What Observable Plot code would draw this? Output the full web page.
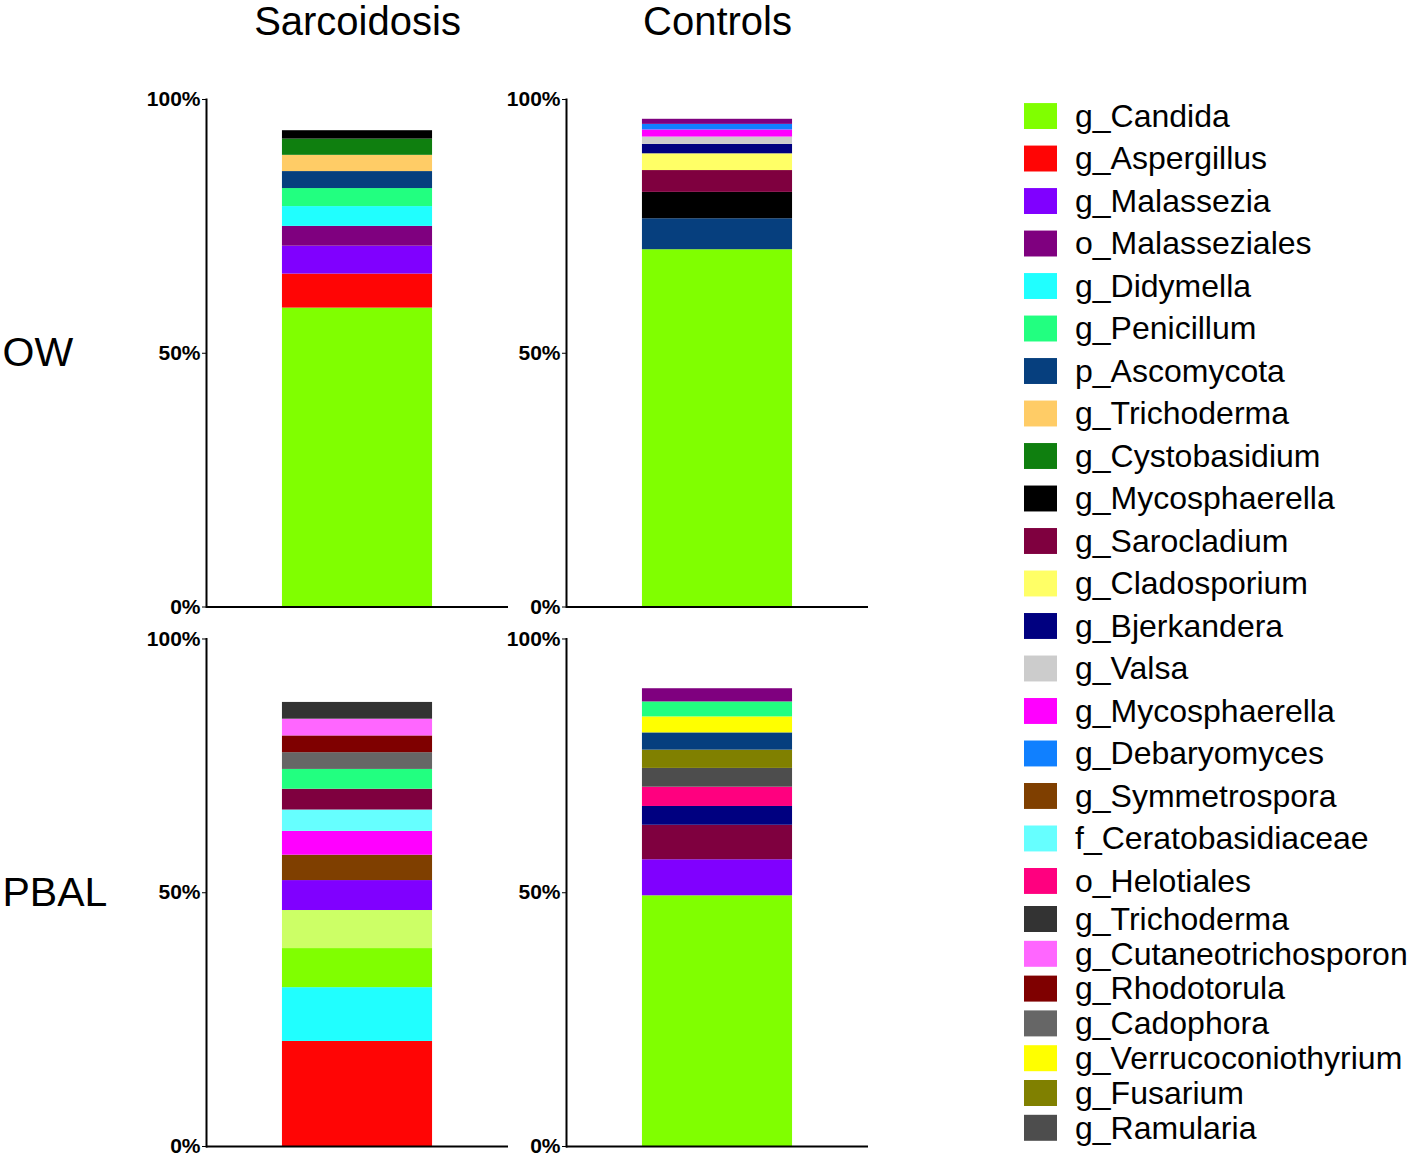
<!DOCTYPE html>
<html>
<head>
<meta charset="utf-8">
<script src="https://cdn.jsdelivr.net/npm/d3@7"></script>
<script src="https://cdn.jsdelivr.net/npm/@observablehq/plot@0.6"></script>
<style>
  html, body { margin: 0; padding: 0; background: #fff; }
  #wrap { position: relative; width: 1416px; height: 1158px; background: #fff; overflow: hidden; }
  #wrap svg { position: absolute; top: 0; }
</style>
</head>
<body>
<div id="wrap"></div>
<script>
// ---- data ----
const groups = ["Sarcoidosis", "Controls"];
const sites = ["OW", "PBAL"];

const taxonKeys = ["Candida","Aspergillus","Malassezia","Malasseziales","Didymella","Penicillum","Ascomycota","Trichoderma","Cystobasidium","Mycosphaerella","Sarocladium","Cladosporium","Bjerkandera","Valsa","Mycosphaerella-2","Debaryomyces","Symmetrospora","Ceratobasidiaceae","Helotiales","Trichoderma-2","Cutaneotrichosporon","Rhodotorula","Cadophora","Verrucoconiothyrium","Fusarium","Ramularia","Unlisted"];
const legendLabels = ["g_Candida","g_Aspergillus","g_Malassezia","o_Malasseziales","g_Didymella","g_Penicillum","p_Ascomycota","g_Trichoderma","g_Cystobasidium","g_Mycosphaerella","g_Sarocladium","g_Cladosporium","g_Bjerkandera","g_Valsa","g_Mycosphaerella","g_Debaryomyces","g_Symmetrospora","f_Ceratobasidiaceae","o_Helotiales","g_Trichoderma","g_Cutaneotrichosporon","g_Rhodotorula","g_Cadophora","g_Verrucoconiothyrium","g_Fusarium","g_Ramularia"];
const taxonColors = ["#80FF00","#FF0505","#8000FF","#7F007F","#20FFFF","#22FF80","#063F7E","#FFCC66","#0F7F0F","#000000","#7F003F","#FFFF66","#000080","#CCCCCC","#FF00FF","#1080FF","#7F3F00","#66FFFF","#FF007F","#333333","#FF66FF","#7F0000","#666666","#FFFF00","#808000","#4D4D4D","#CCFF66"];

// bottom-to-top stacking order in each bar, values in %
const owSarcoidosisTaxa = ["Candida","Aspergillus","Malassezia","Malasseziales","Didymella","Penicillum","Ascomycota","Trichoderma","Cystobasidium","Mycosphaerella"];
const owSarcoidosisValues = [58.9, 6.7, 5.5, 3.9, 3.9, 3.55, 3.35, 3.2, 3.2, 1.65];

const owControlsTaxa = ["Candida","Ascomycota","Mycosphaerella","Sarocladium","Cladosporium","Bjerkandera","Valsa","Mycosphaerella-2","Debaryomyces","Malasseziales"];
const owControlsValues = [70.4, 6.1, 5.2, 4.3, 3.3, 1.85, 1.45, 1.4, 1.1, 1.0];

const pbalSarcoidosisTaxa = ["Aspergillus","Didymella","Candida","Unlisted","Malassezia","Symmetrospora","Mycosphaerella-2","Ceratobasidiaceae","Sarocladium","Penicillum","Cadophora","Rhodotorula","Cutaneotrichosporon","Trichoderma-2"];
const pbalSarcoidosisValues = [20.7, 10.6, 7.7, 7.5, 5.9, 5.0, 4.7, 4.2, 4.1, 3.9, 3.3, 3.3, 3.3, 3.3];

const pbalControlsTaxa = ["Candida","Malassezia","Sarocladium","Bjerkandera","Helotiales","Ramularia","Fusarium","Ascomycota","Verrucoconiothyrium","Penicillum","Malasseziales"];
const pbalControlsValues = [49.4, 7.1, 6.8, 3.7, 3.8, 3.7, 3.6, 3.4, 3.15, 2.95, 2.6];

const yTicks = [0, 50, 100];

// ---- table ----
const panels = [
  ["OW", "Sarcoidosis", owSarcoidosisTaxa, owSarcoidosisValues],
  ["OW", "Controls", owControlsTaxa, owControlsValues],
  ["PBAL", "Sarcoidosis", pbalSarcoidosisTaxa, pbalSarcoidosisValues],
  ["PBAL", "Controls", pbalControlsTaxa, pbalControlsValues]
];
const table = panels.flatMap(([site, group, taxa, values]) =>
  taxa.map((key, i) => ({site, group, key, value: values[i]})));

const font = "'Liberation Sans', Arial, Helvetica, sans-serif";
const colorScale = {domain: taxonKeys, range: taxonColors};

const chart = Plot.plot({
  width: 900,
  height: 1158,
  marginLeft: 206,
  marginRight: 32,
  marginTop: 99,
  marginBottom: 12,
  style: {fontFamily: font, background: "transparent", color: "#000", overflow: "visible"},
  fx: {domain: groups, paddingInner: 0.1611, paddingOuter: 0, round: false, label: null},
  fy: {domain: sites, paddingInner: 0.0593, paddingOuter: 0, round: false, label: null},
  x: {domain: [""], padding: 0.336, round: false, axis: null},
  y: {domain: [0, 100], label: null},
  color: colorScale,
  marks: [
    Plot.barY(table, {fx: "group", fy: "site", x: () => "", y: "value", fill: "key"}),
    Plot.ruleY([0], {strokeWidth: 2}),
    Plot.frame({anchor: "left", strokeWidth: 2}),
    Plot.axisY({ticks: yTicks, tickFormat: d => d + "%", fontSize: 21, fontWeight: "bold", tickSize: 4, tickPadding: 2, facetAnchor: null, label: null}),
    Plot.axisFx({anchor: "top", tickSize: 0, tickPadding: 65, fontSize: 40, label: null}),
    Plot.axisFy({anchor: "left", tickSize: 0, tickPadding: 204, textAnchor: "start", fontSize: 41, label: null})
  ]
});
chart.style.left = "0px";
document.getElementById("wrap").appendChild(chart);

function legendPlot(start, end, range, padding) {
  const keys = taxonKeys.slice(start, end);
  const svg = Plot.plot({
    width: 406,
    height: 1158,
    margin: 0,
    style: {fontFamily: font, background: "transparent", color: "#000"},
    x: {domain: [""], range: [14, 47], padding: 0, round: false, axis: null},
    y: {type: "band", domain: keys, range, padding, round: false, axis: null},
    color: colorScale,
    marks: [
      Plot.cell(keys, {x: () => "", y: d => d, fill: d => d}),
      Plot.text(keys, {x: () => "", y: d => d, text: d => legendLabels[taxonKeys.indexOf(d)], textAnchor: "start", dx: 34, fontSize: 32, fill: "#000"})
    ]
  });
  svg.style.left = "1010px";
  return svg;
}
document.getElementById("wrap").appendChild(legendPlot(0, 19, [86.5, 910.5], 0.39));
document.getElementById("wrap").appendChild(legendPlot(19, 26, [897.2, 1149.6], 0.253));
</script>
</body>
</html>
